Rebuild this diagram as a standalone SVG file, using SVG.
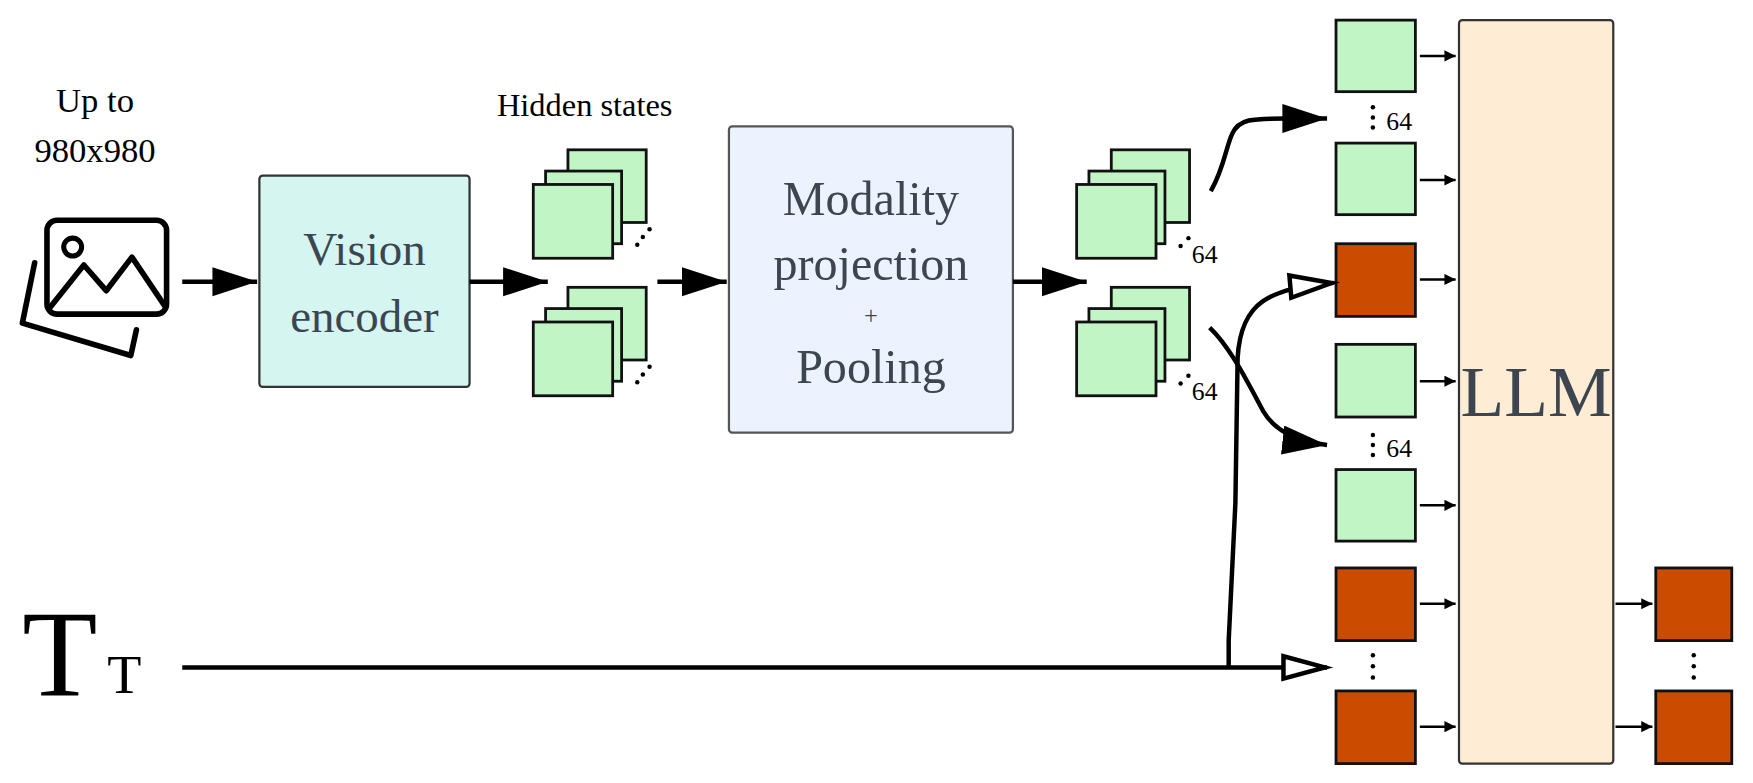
<svg xmlns="http://www.w3.org/2000/svg" width="1753" height="783" viewBox="0 0 1753 783">
<style>
.t{font-family:"Liberation Serif","DejaVu Serif",serif;fill:#000}
.bt{font-family:"Liberation Serif","DejaVu Serif",serif;fill:#3c4550;text-anchor:middle}
.g{fill:#c2f5c6;stroke:#111;stroke-width:2.5}
.o{fill:#cb4c00;stroke:#111;stroke-width:2.5}
.ln{fill:none;stroke:#000;stroke-width:4}
.sm{fill:none;stroke:#000;stroke-width:2.2}
.d{fill:#000}
</style>
<defs>
<marker id="big" markerUnits="userSpaceOnUse" markerWidth="44" markerHeight="30" refX="40" refY="13" orient="auto"><path d="M0,0 L40,13 L0,26 Z" fill="#000"/></marker>
<marker id="open" markerUnits="userSpaceOnUse" markerWidth="48" markerHeight="30" refX="42" refY="13" orient="auto"><path d="M3,3 L40,13 L3,23 Z" fill="#fff" stroke="#000" stroke-width="4"/></marker>
<marker id="smh" markerUnits="userSpaceOnUse" markerWidth="12" markerHeight="12" refX="10" refY="5" orient="auto"><path d="M0,0 L10,5 L0,10 Z" fill="#000"/></marker>
<g id="stk">
<rect class="g" x="31" y="0" width="70" height="65"/>
<rect class="g" x="11" y="19" width="68" height="65"/>
<rect class="g" x="0" y="31" width="71" height="66"/>
</g>
</defs>
<g transform="scale(1.118)">
<g id="input-image">
<text class="t" x="85" y="100" font-size="31" text-anchor="middle">Up to</text>
<text class="t" x="85" y="145" font-size="31" text-anchor="middle">980x980</text>
<rect x="42" y="197" width="107" height="84" rx="9" fill="none" stroke="#000" stroke-width="5"/>
<circle cx="65" cy="221" r="8" fill="none" stroke="#000" stroke-width="4.5"/>
<polyline points="44,276 75,237 95,260 118,230 149,276" fill="none" stroke="#000" stroke-width="5" stroke-linejoin="round"/>
<path d="M31,235 L20,289 L117,318 L122,295" fill="none" stroke="#000" stroke-width="5" stroke-linecap="round" stroke-linejoin="round"/>
</g>
<g id="vision-encoder">
<rect x="232" y="157" width="188" height="189" rx="3" fill="#d5f6f0" stroke="#333" stroke-width="2"/>
<text class="bt" x="326" y="237" font-size="42">Vision</text>
<text class="bt" x="326" y="297" font-size="42">encoder</text>
</g>
<g id="hidden-states">
<text class="t" x="523" y="104" font-size="29" text-anchor="middle">Hidden states</text>
<use href="#stk" x="477" y="134"/>
<use href="#stk" x="477" y="257"/>
<circle class="d" cx="570" cy="219" r="2"/><circle class="d" cx="575" cy="212" r="2"/><circle class="d" cx="581" cy="205" r="2"/>
<circle class="d" cx="570" cy="342" r="2"/><circle class="d" cx="575" cy="335" r="2"/><circle class="d" cx="581" cy="328" r="2"/>
</g>
<g id="modality-projection">
<rect x="652" y="113" width="254" height="274" rx="3" fill="#ecf3fe" stroke="#555" stroke-width="2"/>
<text class="bt" x="779" y="192" font-size="43">Modality</text>
<text class="bt" x="779" y="250" font-size="43">projection</text>
<text class="bt" x="779" y="290" font-size="22">+</text>
<text class="bt" x="779" y="343" font-size="43">Pooling</text>
</g>
<g id="pooled">
<use href="#stk" x="963" y="134"/>
<use href="#stk" x="963" y="257"/>
<circle class="d" cx="1056" cy="220" r="2"/><circle class="d" cx="1063" cy="213" r="2"/>
<circle class="d" cx="1056" cy="343" r="2"/><circle class="d" cx="1063" cy="336" r="2"/>
<text class="t" x="1066" y="235" font-size="23">64</text>
<text class="t" x="1066" y="358" font-size="23">64</text>
</g>
<g id="text-input">
<text class="t" x="20" y="622" font-size="110">T</text>
<text class="t" x="96" y="620" font-size="50">T</text>
</g>
<g id="tokens">
<rect class="g" x="1195" y="18" width="71" height="64"/>
<rect class="g" x="1195" y="128" width="71" height="64"/>
<rect class="o" x="1195" y="218" width="71" height="65"/>
<rect class="g" x="1195" y="308" width="71" height="65"/>
<rect class="g" x="1195" y="420" width="71" height="64"/>
<rect class="o" x="1195" y="508" width="71" height="65"/>
<rect class="o" x="1195" y="618" width="71" height="65"/>
<circle class="d" cx="1228" cy="96" r="2"/><circle class="d" cx="1228" cy="105" r="2"/><circle class="d" cx="1228" cy="114" r="2"/>
<text class="t" x="1240" y="116" font-size="23">64</text>
<circle class="d" cx="1228" cy="389" r="2"/><circle class="d" cx="1228" cy="398" r="2"/><circle class="d" cx="1228" cy="407" r="2"/>
<text class="t" x="1240" y="409" font-size="23">64</text>
<circle class="d" cx="1228" cy="586" r="2"/><circle class="d" cx="1228" cy="596" r="2"/><circle class="d" cx="1228" cy="606" r="2"/>
</g>
<g id="llm">
<rect x="1305" y="18" width="138" height="665" rx="3" fill="#ffecd5" stroke="#333" stroke-width="2"/>
<text class="bt" x="1374" y="372" font-size="64">LLM</text>
</g>
<g id="outputs">
<rect class="o" x="1481" y="508" width="68" height="65"/>
<rect class="o" x="1481" y="618" width="68" height="65"/>
<circle class="d" cx="1515" cy="586" r="2"/><circle class="d" cx="1515" cy="596" r="2"/><circle class="d" cx="1515" cy="606" r="2"/>
</g>
<g id="connectors">
<line class="ln" x1="163" y1="252" x2="230" y2="252" marker-end="url(#big)"/>
<line class="ln" x1="420" y1="252" x2="490" y2="252" marker-end="url(#big)"/>
<line class="ln" x1="588" y1="252" x2="650" y2="252" marker-end="url(#big)"/>
<line class="ln" x1="906" y1="252" x2="972" y2="252" marker-end="url(#big)"/>
<path class="ln" d="M1083,171 C1095,150 1097,130 1102,120 C1108,106 1120,106 1150,106 L1187,106" marker-end="url(#big)"/>
<path class="ln" d="M1082,293 C1100,310 1115,340 1130,368 C1140,385 1160,395 1187,398" marker-end="url(#big)"/>
<path class="ln" d="M163,597 L1187,597" marker-end="url(#open)"/>
<path class="ln" d="M1099,597 L1099,573 L1105,450 L1107,320 C1110,270 1135,258 1193,253" marker-end="url(#open)"/>
<line class="sm" x1="1270" y1="50" x2="1302" y2="50" marker-end="url(#smh)"/>
<line class="sm" x1="1270" y1="161" x2="1302" y2="161" marker-end="url(#smh)"/>
<line class="sm" x1="1270" y1="250" x2="1302" y2="250" marker-end="url(#smh)"/>
<line class="sm" x1="1270" y1="341" x2="1302" y2="341" marker-end="url(#smh)"/>
<line class="sm" x1="1270" y1="452" x2="1302" y2="452" marker-end="url(#smh)"/>
<line class="sm" x1="1270" y1="540" x2="1302" y2="540" marker-end="url(#smh)"/>
<line class="sm" x1="1270" y1="650" x2="1302" y2="650" marker-end="url(#smh)"/>
<line class="sm" x1="1445" y1="540" x2="1478" y2="540" marker-end="url(#smh)"/>
<line class="sm" x1="1445" y1="650" x2="1478" y2="650" marker-end="url(#smh)"/>
</g>
</g>
</svg>
